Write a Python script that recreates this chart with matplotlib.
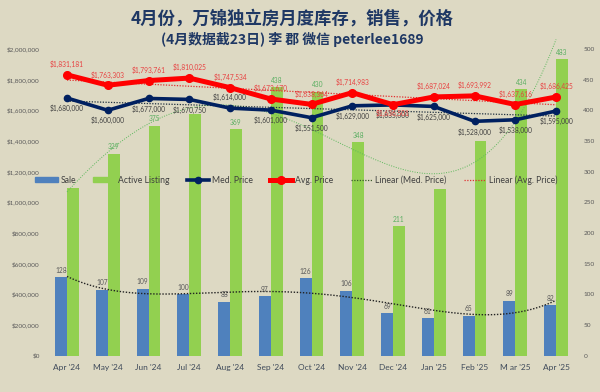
import numpy as np
import matplotlib
matplotlib.use("Agg")
import matplotlib.pyplot as plt
from matplotlib.ticker import FuncFormatter
from matplotlib.patches import Patch
from matplotlib.lines import Line2D

plt.rcParams['font.family'] = ['Lato', 'Noto Sans CJK SC', 'DejaVu Sans']

# === Daten ===
monate = ["Apr '24", "May '24", "Jun '24", "Jul '24", "Aug '24", "Sep '24", "Oct '24",
          "Nov '24", "Dec '24", "Jan '25", "Feb '25", "M ar '25", "Apr '25"]
sale = [128, 107, 109, 100, 88, 97, 126, 106, 69, 61, 65, 89, 82]
active = [273, 329, 375, 394, 369, 438, 430, 348, 211, 272, 350, 434, 483]
active_label = [False, True, True, False, True, True, True, True, True, False, False, True, True]
med_price = [1680000, 1600000, 1677000, 1670750, 1614000, 1601000, 1551500,
             1629000, 1635000, 1625000, 1528000, 1538000, 1595000]
avg_price = [1831181, 1763303, 1793761, 1810025, 1747534, 1673670, 1638364,
             1714983, 1636501, 1687024, 1693992, 1637616, 1686425]

# Farben
bg = "#DDD9C3"
c_sale = "#4F81BD"
c_active = "#92D050"
c_med = "#002060"
c_avg = "#FF0000"

fig = plt.figure(figsize=(6, 3.92), dpi=100)
fig.patch.set_facecolor(bg)

ax = fig.add_axes([0.0777, 0.0931, 0.883, 0.782])
ax.set_facecolor(bg)
x = np.arange(len(monate))
w = 0.29

# --- Balken (rechte Achse) ---
ax.bar(x - w / 2, sale, w, color=c_sale, zorder=2)
ax.bar(x + w / 2, active, w, color=c_active, zorder=2)
ax.set_ylim(0, 500)
ax.set_xlim(-0.5, len(monate) - 0.5)
ax.set_yticks(range(0, 501, 50))
ax.set_xticks(x)
ax.set_xticklabels(monate)

for xi, v in zip(x, sale):
    ax.annotate(f"{v}", (xi - w / 2, v), xytext=(0, 5), textcoords="offset points",
                ha="center", va="center", fontsize=4.8, color="#595959")
for xi, v, show in zip(x, active, active_label):
    if show:
        ax.annotate(f"{v}", (xi + w / 2, v), xytext=(0, 5), textcoords="offset points",
                    ha="center", va="center", fontsize=4.8, color="#5AAE61")

# --- Trendlinien (Polynom) fuer Balken ---
xs = np.linspace(0, len(monate) - 1, 300)
ax.plot(xs, np.polyval(np.polyfit(x, sale, 4), xs), ls=(0, (1, 1.2)), color="#222222",
        lw=1.0, zorder=3)
ax.plot(xs, np.polyval(np.polyfit(x, active, 4), xs), ls=(0, (1, 1.5)), color="#5CB85C",
        lw=0.7, zorder=3, clip_on=False)

# --- Preise (linke Achse) ---
axp = ax.twinx()
ax.yaxis.tick_right()
axp.yaxis.tick_left()
axp.set_ylim(0, 2000000)
axp.set_yticks(range(0, 2000001, 200000))
axp.yaxis.set_major_formatter(FuncFormatter(lambda v, p: f"${v:,.0f}"))

axp.plot(x, med_price, color=c_med, lw=2.6, marker="o", ms=4.5, zorder=4)
axp.plot(x, avg_price, color=c_avg, lw=3.6, marker="o", ms=5.5, zorder=5)

fit_med = np.polyval(np.polyfit(x, med_price, 1), x)
fit_avg = np.polyval(np.polyfit(x, avg_price, 1), x)
axp.plot(x, fit_med, ls=(0, (1, 1.2)), color="#1F2F3F", lw=0.9, zorder=3)
axp.plot(x, fit_avg, ls=(0, (1, 1.2)), color="#E03030", lw=0.9, zorder=3)

med_oben = {4}
avg_unten = {8}
for i, (xi, v) in enumerate(zip(x, med_price)):
    dy = 7.5 if i in med_oben else -7.5
    axp.annotate(f"${v:,.0f}", (xi, v), xytext=(0, dy), textcoords="offset points",
                 ha="center", va="center", fontsize=4.8, color="#404040", zorder=6)
for i, (xi, v) in enumerate(zip(x, avg_price)):
    dy = -6.5 if i in avg_unten else 7.5
    axp.annotate(f"${v:,.0f}", (xi, v), xytext=(0, dy), textcoords="offset points",
                 ha="center", va="center", fontsize=4.8, color="#E84040", zorder=6)

# --- Achsen-Stil ---
for a in (ax, axp):
    for s in a.spines.values():
        s.set_visible(False)
    a.tick_params(length=0, labelsize=4.6, labelcolor="#595959")
ax.tick_params(axis="y", pad=5)
axp.tick_params(axis="y", pad=5)
ax.tick_params(axis="x", labelsize=6, labelcolor="#3F4A5A", pad=6)

# --- Legende ---
handles = [
    Patch(color=c_sale),
    Patch(color=c_active),
    Line2D([], [], color=c_med, lw=2.6, marker="o", ms=4.5),
    Line2D([], [], color=c_avg, lw=3.6, marker="o", ms=5.5),
    Line2D([], [], color="#3A5A2A", lw=0.9, ls=(0, (1, 1.2))),
    Line2D([], [], color="#E03030", lw=0.9, ls=(0, (1, 1.2))),
]
labels = ["Sale", "Active Listing", "Med. Price", "Avg. Price",
          "Linear (Med. Price)", "Linear (Avg. Price)"]
fig.legend(handles, labels, loc="center", bbox_to_anchor=(0.494, 0.541), ncol=6,
           frameon=False, fontsize=6.2, handlelength=2.6, handleheight=0.5,
           columnspacing=2.0, handletextpad=0.3, labelcolor="#404040")

# --- Titel ---
fig.text(0.487, 0.954, "4月份，万锦独立房月度库存，销售，价格", ha="center", va="center",
         fontsize=12.5, fontweight="bold", color="#1F3864",
         family=["Noto Sans CJK SC", "DejaVu Sans"])
fig.text(0.487, 0.898, "(4月数据截23日) 李 郡 微信 peterlee1689", ha="center", va="center",
         fontsize=10, fontweight="bold", color="#1F3864",
         family=["Noto Sans CJK SC", "DejaVu Sans"])

fig.savefig("out.png", dpi=100, facecolor=bg)
